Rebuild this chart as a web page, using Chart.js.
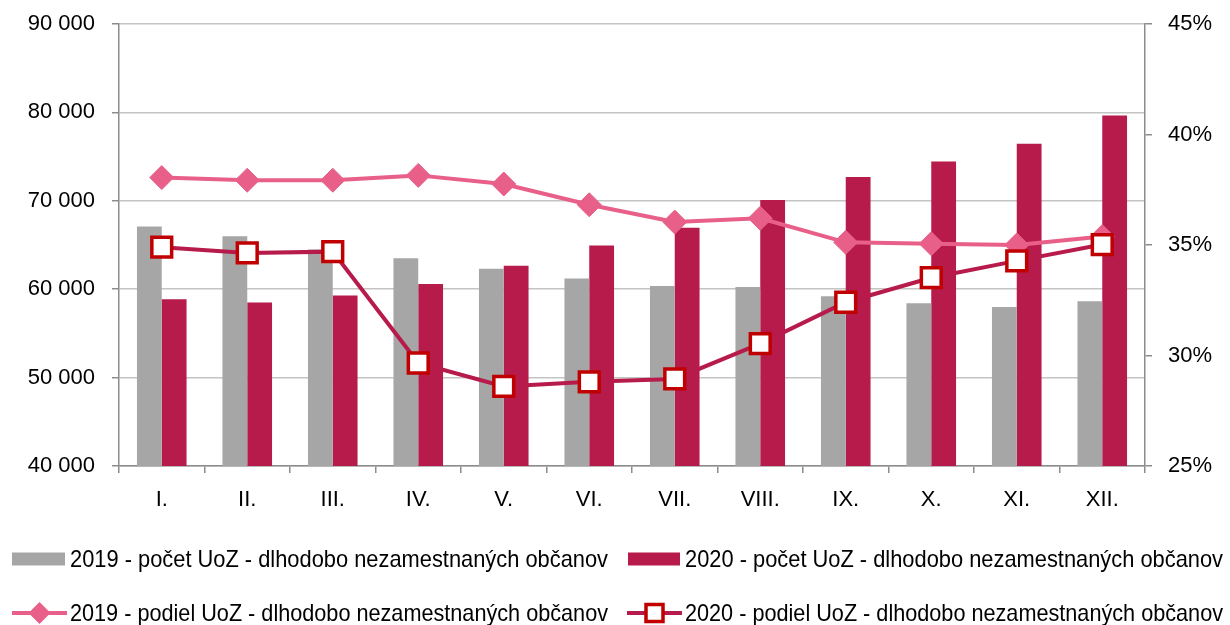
<!DOCTYPE html>
<html>
<head>
<meta charset="utf-8">
<script src="https://cdn.jsdelivr.net/npm/chart.js@4/dist/chart.umd.min.js"></script>
<style>
  html, body { margin: 0; padding: 0; background: #fff; }
  #wrap { width: 1230px; height: 625px; }
</style>
</head>
<body>
<div id="wrap"><canvas id="chart" width="1230" height="625"></canvas></div>
<script>
// Mesiace
const months = ['I.', 'II.', 'III.', 'IV.', 'V.', 'VI.', 'VII.', 'VIII.', 'IX.', 'X.', 'XI.', 'XII.'];

// Pocet UoZ - dlhodobo nezamestnanych
const count2019 = [67100, 66000, 64500, 63500, 62300, 61200, 60350, 60250, 59200, 58400, 58000, 58650];
const count2020 = [58850, 58500, 59300, 60600, 62650, 64950, 66950, 70100, 72700, 74450, 76450, 79650];

// Podiel UoZ - dlhodobo nezamestnanych (%)
const share2019 = [38.05, 37.93, 37.93, 38.15, 37.76, 36.82, 36.04, 36.21, 35.12, 35.06, 35.0, 35.38];
const share2020 = [34.9, 34.64, 34.7, 29.66, 28.6, 28.81, 28.94, 30.54, 32.41, 33.52, 34.28, 35.02];

const labels = [
    '2019 - počet UoZ - dlhodobo nezamestnaných občanov',
    '2020 - počet UoZ - dlhodobo nezamestnaných občanov',
    '2019 - podiel UoZ - dlhodobo nezamestnaných občanov',
    '2020 - podiel UoZ - dlhodobo nezamestnaných občanov'
];

const GRAY = '#a6a6a6';
const WINE = '#b71b4b';
const PINK = '#e8608a';
const RED = '#c00000';
const AXIS = '#8c8c8c';
const GRID = '#c4c4c4';
const FONT = "'Liberation Sans', Arial, sans-serif";

Chart.defaults.font.family = FONT;
Chart.defaults.font.size = 22;
Chart.defaults.color = '#000';

// Legenda kreslena rucne v 2x2 mriezke
const legendPlugin = {
    id: 'gridLegend',
    afterDraw(chart) {
        const ctx = chart.ctx;
        const items = [
            { text: labels[0], kind: 'box', color: GRAY, x: 12, w: 53, tx: 70, tw: 538, y: 559 },
            { text: labels[1], kind: 'box', color: WINE, x: 628, w: 52, tx: 685, tw: 538, y: 559 },
            { text: labels[2], kind: 'diamond', x: 12, w: 55, tx: 70, tw: 538, y: 613 },
            { text: labels[3], kind: 'square', x: 627, w: 55, tx: 685, tw: 538, y: 613 }
        ];
        ctx.save();
        items.forEach(it => {
            if (it.kind === 'box') {
                ctx.fillStyle = it.color;
                ctx.fillRect(it.x, it.y - 6.5, it.w, 13);
            } else if (it.kind === 'diamond') {
                ctx.strokeStyle = PINK;
                ctx.lineWidth = 4;
                ctx.beginPath();
                ctx.moveTo(it.x, it.y);
                ctx.lineTo(it.x + it.w, it.y);
                ctx.stroke();
                const cx = it.x + it.w / 2, r = 11;
                ctx.fillStyle = PINK;
                ctx.beginPath();
                ctx.moveTo(cx, it.y - r);
                ctx.lineTo(cx + r, it.y);
                ctx.lineTo(cx, it.y + r);
                ctx.lineTo(cx - r, it.y);
                ctx.closePath();
                ctx.fill();
            } else {
                ctx.strokeStyle = WINE;
                ctx.lineWidth = 4;
                ctx.beginPath();
                ctx.moveTo(it.x, it.y);
                ctx.lineTo(it.x + it.w, it.y);
                ctx.stroke();
                const cx = it.x + it.w / 2;
                ctx.fillStyle = '#fff';
                ctx.fillRect(cx - 8.5, it.y - 8.5, 17, 17);
                ctx.strokeStyle = RED;
                ctx.lineWidth = 3.5;
                ctx.strokeRect(cx - 8.5, it.y - 8.5, 17, 17);
            }
            // text je v originali zuzeny (Arial Narrow), tak ho stlacime do sirky
            ctx.fillStyle = '#000';
            ctx.font = '24px ' + FONT;
            ctx.textBaseline = 'middle';
            ctx.textAlign = 'left';
            const sx = it.tw / ctx.measureText(it.text).width;
            ctx.save();
            ctx.translate(it.tx, it.y + 1);
            ctx.scale(sx, 1);
            ctx.fillText(it.text, 0, 0);
            ctx.restore();
        });
        ctx.restore();
    }
};

// bez automatickeho odsadenia kvoli popisom osi
function noPad(scale) {
    scale.paddingTop = 0;
    scale.paddingBottom = 0;
}

new Chart(document.getElementById('chart'), {
    data: {
        labels: months,
        datasets: [
            {
                type: 'line',
                label: labels[3],
                data: share2020,
                yAxisID: 'yRight',
                borderColor: WINE,
                borderWidth: 4,
                pointStyle: 'rect',
                pointRadius: 14,
                pointBackgroundColor: '#fff',
                pointBorderColor: RED,
                pointBorderWidth: 3.5,
                tension: 0,
                order: 0
            },
            {
                type: 'line',
                label: labels[2],
                data: share2019,
                yAxisID: 'yRight',
                borderColor: PINK,
                borderWidth: 4,
                pointStyle: 'rectRot',
                pointRadius: 12,
                pointBackgroundColor: PINK,
                pointBorderColor: PINK,
                pointBorderWidth: 1,
                tension: 0,
                order: 1
            },
            {
                type: 'bar',
                label: labels[0],
                data: count2019,
                yAxisID: 'yLeft',
                backgroundColor: GRAY,
                categoryPercentage: 0.58,
                barPercentage: 1,
                order: 2
            },
            {
                type: 'bar',
                label: labels[1],
                data: count2020,
                yAxisID: 'yLeft',
                backgroundColor: WINE,
                categoryPercentage: 0.58,
                barPercentage: 1,
                order: 2
            }
        ]
    },
    options: {
        responsive: false,
        animation: false,
        layout: { padding: { top: 24, left: 0, right: 0, bottom: 0 } },
        plugins: {
            legend: { display: false },
            tooltip: { enabled: false }
        },
        scales: {
            x: {
                offset: true,
                grid: { drawOnChartArea: false, color: AXIS, tickLength: 7, offset: true, lineWidth: 1.5 },
                border: { color: AXIS, width: 1.5 },
                ticks: { padding: 14, font: { size: 22 } },
                afterFit(scale) { scale.height = 159; }
            },
            yLeft: {
                position: 'left',
                min: 40000,
                max: 90000,
                grid: { color: GRID, lineWidth: 1.5, tickColor: AXIS, tickLength: 7 },
                border: { color: AXIS, width: 1.5 },
                ticks: {
                    stepSize: 10000,
                    padding: 17,
                    callback: v => String(v).replace(/\B(?=(\d{3})+(?!\d))/g, ' ')
                },
                afterFit(scale) { scale.width = 119; noPad(scale); }
            },
            yRight: {
                position: 'right',
                min: 25,
                max: 45,
                grid: { drawOnChartArea: false, color: AXIS, lineWidth: 1.5, tickLength: 7 },
                border: { color: AXIS, width: 1.5 },
                ticks: {
                    stepSize: 5,
                    padding: 16,
                    callback: v => v + '%'
                },
                afterFit(scale) { scale.width = 85; noPad(scale); }
            }
        }
    },
    plugins: [legendPlugin]
});
</script>
</body>
</html>
